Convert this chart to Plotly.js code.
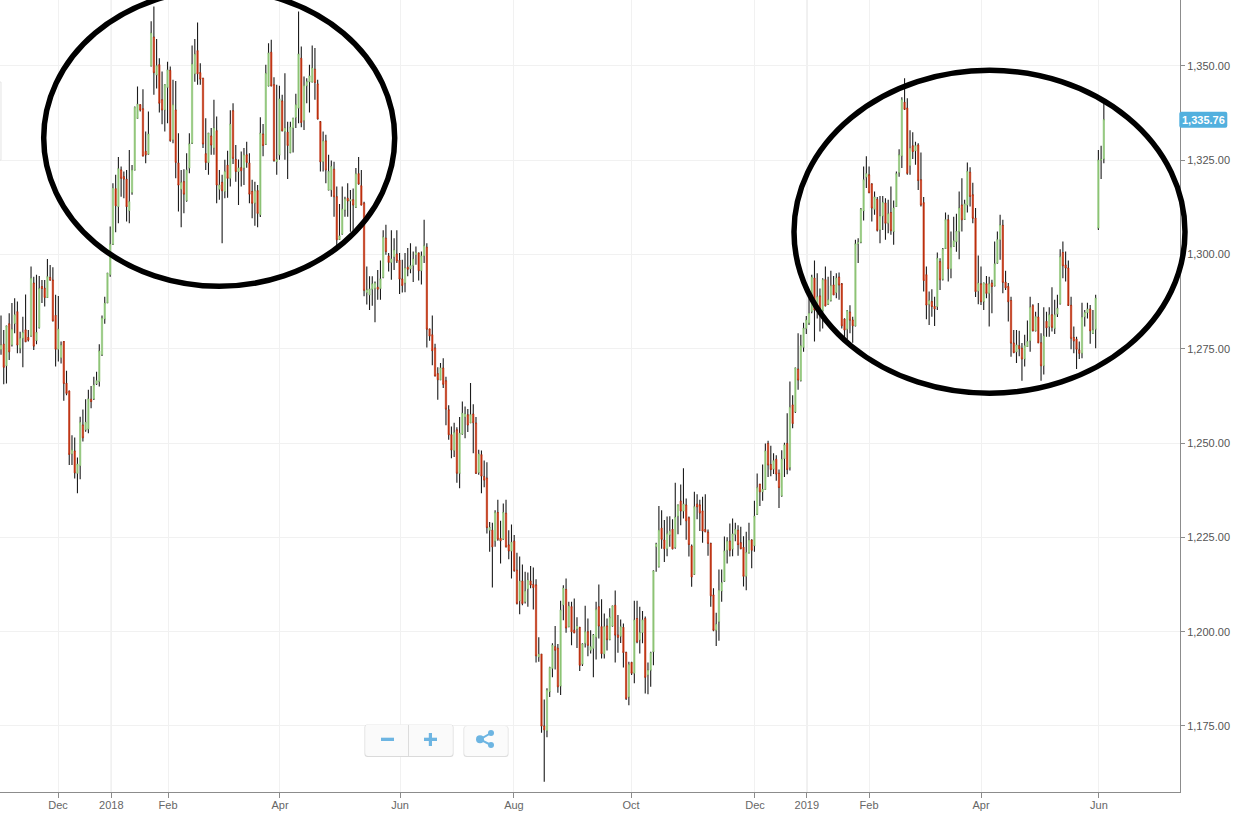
<!DOCTYPE html>
<html><head><meta charset="utf-8">
<script src="https://cdn.plot.ly/plotly-3.0.0.min.js"></script>
<style>html,body{margin:0;padding:0;background:#fff;overflow:hidden}#c{width:1235px;height:819px}</style>
</head><body><div id="c"></div>
<script>
const open = [
1274.8,1276.2,1270.5,1281.6,1276,1281.7,1284.8,1275.1,1277.8,1280,
1278,1278.4,1292.4,1277.2,1280.6,1291.5,1291,1288.6,1293.9,1293.2,
1283.8,1274.9,1272.6,1276.9,1265.8,1263.8,1247.1,1247.9,1242,1244,
1254.8,1253.5,1253.7,1261.6,1261.7,1265.7,1266.3,1273.4,1282.9,1287.2,
1294.6,1302.7,1317.4,1312.7,1322.4,1320.6,1319.9,1311.6,1316.4,1322.4,
1336.1,1339.7,1338.6,1327.3,1326.6,1350,1357.6,1347.6,1350.3,1341,
1338.3,1344.3,1348.8,1330.4,1338.3,1324.2,1317.3,1319.3,1314.3,1322.9,
1329.5,1347.9,1354,1348.2,1346.7,1326.7,1324.4,1331.4,1328.2,1332.8,
1317.3,1319.1,1316.7,1323.6,1320.2,1338.1,1325.2,1322,1323,1322.9,
1326.4,1324.2,1316.7,1313.6,1316.9,1310.5,1331.9,1329.2,1344.7,1353.6,
1345,1324.6,1326.4,1340.7,1332.6,1332.4,1327,1333.5,1336.3,1338.8,
1352,1335.5,1344.7,1345.8,1345.7,1349.1,1345.2,1335.2,1324.6,1330.1,
1317.1,1317.1,1322.6,1315.3,1304,1305.4,1311.8,1314.9,1314.2,1314.5,
1312.5,1321.4,1318.2,
1313.6,1289.9,1289.3,1290.8,1291,1291.3,1291,1293.9,1304.3,1299.6,
1297.9,1299.3,1300.1,1298.4,1293.5,1292.4,1296.6,1296.2,1297.1,1299.9,
1300.4,1295.7,1299.6,1301.9,1280.2,1278.7,1275.2,1268.4,1266.8,1269.9,
1266.5,1258.8,1252.2,1248,1253.5,1242,1252.4,1256.9,1257.5,1255.4,
1257.7,1255.3,1242.2,1246.9,1241.1,1240.7,
1226.9,1226.9,1224,1231.6,1224.7,1224.5,1231.4,1223,1221.4,1224,
1216.3,1208.2,1213.4,1207.9,1211.3,1213.4,1212.5,1212.4,1193.3,1194,
1175,1173.7,1184.1,1190.3,1196,1195.6,1185.6,1207.1,1211.2,1201.3,
1206.6,1200.4,1200.7,1201.1,1191.4,1196.9,1200,1195.1,1195.6,1198.5,
1206.6,1201.3,1194.1,1201.5,1197.9,1201.5,1207,1199.1,1198.8,1201.1,
1194.5,1182.7,1191.8,1189,1203.5,1197.8,1199.8,1203.5,1188.5,1189.8,
1194.7,1222.5,1217.2,1227.4,1224.3,1222,1225.6,1227.1,1222.3,1230.6,
1234.6,1232,1233.6,1230.2,1222.7,1215.2,1233.8,1233.6,1232,1227.1,
1226.4,1223.4,1209.7,1200.4,1202.6,1210.8,1213.4,1221.6,1224,1221.9,
1225.8,1226.9,1223.6,1222.3,1214.7,1220.9,1224.3,1222.8,1231.1,1239.1,
1237.1,1237.7,1249.9,1244.3,1243.1,1245.7,1242,1236,1245.9,1249.9,
1243.5,1260.1,1258.3,
1269.6,1266.6,1275.4,1280.4,1281.8,1284.9,1293.7,1285.1,1289,1285.1,
1293.3,1286.8,1287.8,1291.9,1289.9,1294,1292.2,1282.8,1280.2,1284.7,
1282.6,1281.1,1302.8,1303.2,1311.6,1320.5,1321.1,1318.7,1312,1314.6,
1306.5,1310.2,1313.6,1308.3,1311.1,1306.1,1312.7,1321.7,1326.1,1340.3,
1338.8,1323.5,1328.8,1327.5,1329,1319.8,1313.7,1294.6,1286.8,1287.5,
1286.2,1286.2,1298.1,1293.4,1301.6,1309.2,1296.2,1302.1,1303.4,1306.1,
1313.1,1309.3,1313.1,1321.8,1315.8,1309.6,1290.3,1292.2,1287.5,1292.2,
1289.7,1292.4,1291.7,1297.7,1303.9,1307.7,1292.6,1291.5,1287.8,1276.5,
1274.2,1275.8,
1275.1,1272.3,1275.6,1277.1,1286.4,1279.8,1283.4,1276.6,1270.5,1282.2,
1280.9,1284,1280.4,1284.2,1286.9,1300.5,1297.2,1296.4,1286.5,1278,
1277.5,1274.7,1273.8,1283.5,1284.6,1285.5,1279.1,1280.2,1307,1325,1325.3];
const high = [
1283.8,1280,1281,1284.4,1287.1,1288.4,1287.5,1279.5,1283.5,1289.4,
1280,1296.8,1294.1,1294.6,1294.3,1293.2,1293.2,1298.8,1297.2,1296.6,
1289.3,1289,1276.9,1276.9,1269.2,1263.8,1252.1,1251.5,1246.2,1257,
1258.9,1261.6,1264.1,1265.1,1267.6,1268.9,1276.2,1283.8,1288.8,1295,
1307.4,1318.9,1321.1,1325.8,1323.3,1322,1322.4,1327.7,1323.7,1339.2,
1344.5,1339.7,1343.8,1332.6,1337.9,1361.8,1365.7,1357.1,1352,1348.5,
1345,1351.1,1349.8,1346.3,1346,1332.1,1322.4,1322.6,1326.8,1332.1,
1355.4,1357.1,1361.5,1350.7,1346.7,1336.1,1332.1,1333.5,1341,1336.6,
1322.4,1321.1,1325.1,1327.5,1338.2,1340.1,1329,1325.2,1327.3,1328.2,
1329.9,1326.8,1319.8,1319.3,1318.4,1336.4,1334.6,1350.3,1356,1356.9,
1347,1345,1344.7,1342.3,1348,1335.2,1335.2,1336.1,1342.6,1364.4,
1355.1,1347.2,1346.7,1350.3,1355.4,1354.7,1346.3,1335.2,1332.6,1331.7,
1326.4,1324.9,1324.6,1318,1313.4,1318,1315.3,1318.9,1317.1,1317.5,
1322.9,1325.8,1322.4,
1314,1296.8,1294.2,1294.2,1292.8,1295.9,1298.4,1306.4,1307.9,1300.4,
1306.4,1304.3,1306.4,1300.4,1298.6,1300.4,1301.7,1303,1300.8,1302.1,
1300.4,1300.8,1309.2,1303,1280.2,1283.8,1276.3,1270.1,1271.2,1272.5,
1267.6,1260,1254.4,1255.4,1254.2,1256.9,1261,1259.7,1259,1265.9,
1260.3,1256.9,1248.2,1248,1245.4,1244.9,
1229.1,1228.9,1232.2,1235,1229.4,1234,1235,1226.9,1228.4,1225.6,
1220.9,1219.9,1217.8,1215.9,1215.7,1217.4,1217,1213.9,1198.5,1194,
1182,1185,1190.7,1196.9,1201.5,1196.7,1208.2,1212.3,1214.1,1207.9,
1207.9,1208.8,1203.8,1201.3,1196.9,1206.9,1203.5,1200.4,1199.4,1207.9,
1212.5,1208.6,1204.8,1203.5,1206.2,1206.8,1210.9,1204.4,1203.2,1202.2,
1194.7,1192,1192,1208.2,1208.2,1206.6,1205.5,1204,1191.8,1194.7,
1216.3,1223.6,1233.3,1232.2,1229.6,1230.5,1230.6,1229.8,1239.5,1233.6,
1239,1243.3,1235.3,1230.5,1223.1,1237.1,1236.4,1235,1235.8,1236.4,
1227.1,1223.6,1211.5,1205,1216.5,1216.5,1225.2,1225,1228.7,1230,
1228.9,1228.2,1227.8,1225.3,1226.5,1228.9,1224.5,1234.7,1241.9,1239.1,
1244.3,1249.9,1250.6,1249.3,1247.3,1246.8,1243,1248.1,1250.1,1257.9,
1266.3,1262.7,1269.9,
1279.1,1278.7,1281.9,1283.7,1288.4,1294.6,1298.4,1295,1291,1293.7,
1296.8,1294.1,1295.7,1294.3,1295,1295.2,1292.4,1283.1,1285.3,1286.5,
1283.5,1303.9,1304.3,1312.3,1323.3,1326,1323.3,1318.9,1316.7,1315.2,
1315.5,1315.5,1314.9,1314.5,1318,1314.3,1322,1327.9,1341.7,1346.7,
1341.4,1332.9,1332.4,1329.9,1329.5,1327,1315.2,1296.8,1290.2,1290.8,
1288.8,1300.5,1299,1301.7,1311.1,1310.5,1306.1,1310,1310.8,1316.7,
1320.2,1314.5,1324.4,1323.1,1319,1312.3,1299.7,1296.8,1292.4,1294.3,
1294.1,1293.3,1303.4,1306.1,1310.5,1309.2,1295.7,1292.4,1288.8,1280,
1280,1279.8,
1276.5,1278.7,1282.5,1288.8,1286.8,1284.8,1287.1,1279.1,1286,1284.8,
1286,1291.3,1288,1289.3,1301.4,1303.4,1300.8,1298.4,1288.8,1280.9,
1278.2,1276.9,1287.2,1285.3,1287.2,1286.6,1285.3,1289.3,1327.7,1328.8,1340.1];
const low = [
1273.4,1265.6,1265.8,1272,1275.6,1279.1,1273.8,1273.8,1270.1,1276.9,
1276.9,1278.2,1274.7,1276.2,1280.4,1287.1,1286.2,1288.6,1293.2,1282.2,
1270.3,1271.6,1271.1,1261.2,1262.7,1244.2,1244.2,1240.6,1236.7,1240.4,
1250.4,1253,1252.6,1259.2,1261.4,1265.4,1265,1273.1,1281.6,1287.1,
1294.1,1302.5,1305.9,1308.3,1315.3,1314.9,1308.7,1308.3,1315.8,1322.4,
1336.1,1337.9,1326,1324.2,1326.4,1349.8,1342.3,1344,1337.6,1334.5,
1332.6,1334.8,1329.9,1329.5,1320.2,1311.4,1307.2,1310.9,1314,1321.5,
1329.3,1345.8,1345,1345,1328.2,1322.4,1321.1,1326.4,1326.4,1313.6,
1314.5,1303,1314.9,1315,1318,1324,1319.3,1313.1,1318,1318.4,
1323,1313.6,1309.6,1307.6,1307.2,1309.9,1326,1329,1344.5,1344.5,
1324.6,1321.1,1325.1,1332.6,1325.1,1320,1326.8,1327,1333.5,1334.8,
1333.7,1333,1340.1,1337.6,1345.6,1341,1335.9,1322,1322,1318.9,
1317,1315.3,1310,1302.5,1303.9,1305.2,1310,1310,1306,1306,
1312.3,1318.5,1313.1,
1288.9,1286.7,1285.3,1286.4,1282,1288,1288,1293.7,1299.9,1295.5,
1293.3,1295.9,1297.7,1289.5,1289.9,1290,1294.2,1295,1292.7,1297.3,
1293.1,1292,1297.7,1275.3,1277.1,1270.6,1267.8,1261.5,1266.8,1264.6,
1254.7,1250.9,1246,1246.3,1239.5,1238,1252.2,1251.3,1252.9,1255.3,
1247.3,1241.8,1241.6,1236.7,1238.3,1226,
1221.2,1211.7,1222.5,1224.1,1218.1,1224.3,1222.3,1219.2,1214.1,1215.9,
1207.2,1204.6,1207,1207.5,1206.6,1211.5,1205.9,1191.8,1192,1173.2,
1160.2,1172,1182.7,1187.9,1190,1183.8,1183.2,1203,1199.7,1201.3,
1196.4,1199.7,1195.7,1189.6,1190.9,1195.8,1193.5,1194.2,1187.9,1192.6,
1198.2,1192.9,1192.9,1195,1197.8,1201.3,1191.8,1194.4,1197,1190.5,
1181.9,1180.5,1188.5,1186.3,1196.9,1194.2,1196.9,1183.6,1183.4,1185.4,
1191.1,1215.9,1217,1222,1218.5,1220,1222.5,1221.8,1222,1225.8,
1228.2,1230,1224.4,1219.9,1211.9,1215,1229.8,1226.7,1223.6,1226.4,
1220.1,1206.6,1200.1,1196.2,1197.6,1207.9,1213.2,1218.1,1219.9,1220,
1224,1220.1,1222,1212,1211,1220.7,1216.8,1221.2,1230.9,1233.3,
1234.7,1237.6,1241,1241.2,1241.8,1240,1232.8,1235.8,1241,1241.7,
1242.7,1253.9,1258,
1264.1,1266.3,1274.2,1278.9,1281.3,1284.4,1276.9,1283,1279.6,1280.4,
1286.2,1286.6,1287.5,1289.3,1288.4,1288,1280.4,1277.8,1277.5,1279.1,
1276.6,1280.9,1297.7,1303,1309,1317.6,1316.2,1308.7,1310.5,1306.1,
1303,1306.5,1303.9,1305.6,1305.2,1302.6,1312.7,1320.6,1322.9,1338.3,
1321.1,1321.1,1325.3,1323.8,1317.1,1312.7,1290.2,1282.8,1281.3,1283.5,
1281,1285.3,1290.6,1293.1,1301.6,1292.8,1293.7,1302,1300.7,1298.7,
1306.1,1309.2,1311.1,1312.7,1308.3,1288.7,1286.8,1286.6,1285.3,1288.4,
1280.9,1284.4,1291.5,1297.7,1298.6,1289.7,1290.6,1282.2,1272.9,1273.8,
1271.2,1273,
1266.5,1270.3,1275.6,1274.2,1279.6,1279.6,1276.5,1266.5,1268.2,1278.2,
1278.2,1279.6,1278.9,1283.4,1286.7,1293.7,1292.8,1286.5,1274.9,1273.8,
1269.6,1272.3,1272.5,1280.9,1283,1276.3,1278.9,1275.1,1306.5,1320,1324.2];
const close = [
1276,1270.1,1281,1274.2,1280.2,1284,1276,1277.8,1279.3,1276.9,
1277.3,1293.7,1275.7,1279.3,1291,1291,1288.6,1294.1,1293.2,1282.4,
1274.9,1280.2,1276,1265.8,1263.2,1247,1248.2,1242.1,1244.4,1255.5,
1251.4,1255.5,1261.7,1261,1265.4,1266.5,1274.4,1283.1,1287.1,1295,
1302.7,1317.6,1312.9,1322.7,1320.2,1320,1312.7,1314,1322.4,1339,
1339.8,1338.3,1326.1,1326.4,1331.9,1358.7,1348.2,1350,1340.1,1338.3,
1345,1348.9,1330.2,1339.7,1324.4,1318.4,1319.1,1316,1322.4,1329.3,
1350.5,1353.1,1347.9,1346.5,1329.3,1324.4,1332.1,1329,1333.5,1318.4,
1318.4,1316.9,1322,1320.2,1334.5,1325.5,1322,1322.9,1322.2,1326.4,
1324.4,1316,1313.6,1316.9,1310.9,1332.1,1328.9,1348,1353.4,1344.7,
1324.9,1325.2,1341.2,1332.8,1333.5,1328.9,1333.7,1336.1,1339.7,1353.1,
1335,1344.8,1345.8,1347.3,1349.4,1345.6,1335.9,1324.6,1330.1,1322.4,
1322,1323.3,1315.3,1303.9,1304.9,1312,1314.7,1314.2,1314.5,1313.1,
1321.4,1318.7,1313.1,
1290.5,1290.6,1290.8,1292.2,1292.4,1290.8,1293.5,1304.6,1300.8,1297.9,
1298.8,1301.2,1298.3,1293.5,1291.8,1296.4,1296.1,1297,1298.8,1300.5,
1295.7,1299.6,1302.3,1280.2,1278.4,1274.5,1267.8,1266.8,1269.9,1265.6,
1259,1252.2,1248.2,1252.8,1242,1252.6,1257.9,1257.7,1254.8,1257.5,
1255.4,1242,1247.1,1241.3,1240.2,1227.6,
1227.6,1222.5,1231.6,1224.5,1224.1,1231.6,1222.5,1221.4,1223.7,1216.2,
1207.5,1213.4,1207.5,1210.8,1213.7,1212.4,1211.7,1193.6,1194,1175,
1174,1184.5,1190.5,1196.4,1195.1,1185.4,1205.7,1211.5,1201,1206.8,
1200,1199.7,1201.5,1191.1,1196.7,1200,1196.4,1196,1199.1,1205.9,
1201.5,1194.2,1201.3,1197.9,1203.8,1206.8,1199.1,1198.5,1201.3,1194.5,
1182.3,1191.3,1189,1203.1,1197.3,1199.8,1203.1,1187.9,1189.8,1194.4,
1216.1,1223.2,1226.9,1224.5,1222,1226,1226.7,1222,1230.3,1233.6,
1232,1233.8,1229.4,1223.1,1214.5,1233.1,1233.1,1231.5,1226.7,1226.5,
1223.4,1209.5,1200.4,1202,1211,1213,1221.4,1224,1221.6,1225.9,
1227.1,1223.1,1222,1214.7,1221,1224.3,1221.6,1230.6,1238.2,1237.1,
1237.7,1247.9,1244.2,1243,1245.3,1241.8,1238.2,1245.7,1249.5,1243,
1259.5,1255.2,1269.9,
1266.7,1275.8,1280.4,1282.6,1284.4,1294,1285.3,1288.8,1285.1,1293.3,
1286.4,1288,1291.7,1289.3,1293.7,1291.9,1281.1,1280,1285.1,1282.6,
1281.1,1302.8,1303.2,1312,1319.8,1321.4,1316.4,1312.3,1315.2,1306.4,
1310.2,1313.8,1308.3,1310.8,1306.3,1312.3,1321.4,1326.4,1341,1338.5,
1321.5,1328.2,1327.3,1328.8,1319.6,1313.1,1293.1,1286.6,1287.8,1286.2,
1285.6,1299,1293.3,1301.4,1309.2,1296.2,1301.9,1303.6,1306.1,1312.3,
1309.2,1313.4,1322,1315.4,1309.6,1290.2,1292.4,1287.5,1292.4,1289.7,
1292.2,1291.5,1297.5,1303.9,1307.8,1292.6,1291.2,1287.5,1276.5,1274,
1276,1275,
1272.3,1275.8,1276.9,1286,1279.8,1283.5,1276.6,1270.5,1278.4,1280.6,
1284,1280.7,1284,1285.7,1299.4,1297,1296.4,1286.5,1277.8,1277.1,
1274.9,1273.8,1283.4,1284.6,1285.5,1279.8,1280,1288.4,1325,1325.2,1335.76];

const priceTicks = [1175,1200,1225,1250,1275,1300,1325,1350];
const monthTickPos = [20.9,40.4,61.2,102.2,146.2,187.9,230.8,276.2,295.2,318,359,402.2];
const monthTickText = ["Dec","2018","Feb","Apr","Jun","Aug","Oct","Dec","2019","Feb","Apr","Jun"];
const yearLines = [40.4,295.2];
const lastPrice = 1335.76;

if(!(open.length===high.length&&high.length===low.length&&low.length===close.length)) throw new Error("len "+[open.length,high.length,low.length,close.length]);
const x = open.map((_,i)=>i);

const W=1180, H=792;
const px=v=>v/W, py=v=>1-v/H;
const rectP=(x0,y0,x1,y1,fill,line,lw)=>({type:'rect',xref:'paper',yref:'paper',x0:px(x0),x1:px(x1),y0:py(y0),y1:py(y1),fillcolor:fill,line:{color:line||fill,width:lw===undefined?0:lw},layer:'above'});
const roundP=(x0,y0,x1,y1,r,fill)=>{
 const X=px,Y=py;
 return {type:'path',xref:'paper',yref:'paper',fillcolor:fill,line:{width:0},layer:'above',
  path:`M${X(x0+r)},${Y(y0)} L${X(x1-r)},${Y(y0)} Q${X(x1)},${Y(y0)} ${X(x1)},${Y(y0+r)} L${X(x1)},${Y(y1-r)} Q${X(x1)},${Y(y1)} ${X(x1-r)},${Y(y1)} L${X(x0+r)},${Y(y1)} Q${X(x0)},${Y(y1)} ${X(x0)},${Y(y1-r)} L${X(x0)},${Y(y0+r)} Q${X(x0)},${Y(y0)} ${X(x0+r)},${Y(y0)} Z`};
};
const circP=(cx,cy,r,fill)=>({type:'circle',xref:'paper',yref:'paper',x0:px(cx-r),x1:px(cx+r),y0:py(cy-r),y1:py(cy+r),fillcolor:fill,line:{width:0},layer:'above'});
const lineP=(x0,y0,x1,y1,c,w)=>({type:'line',xref:'paper',yref:'paper',x0:px(x0),x1:px(x1),y0:py(y0),y1:py(y1),line:{color:c,width:w},layer:'above'});
const ellipse=(x0,y0,x1,y1)=>({type:'circle',xref:'paper',yref:'paper',x0:px(x0),x1:px(x1),y0:py(y0),y1:py(y1),line:{color:'#000',width:5.5},fillcolor:'rgba(0,0,0,0)',layer:'above'});
const ICON='#6db5e2';

const shapes=[
 ...yearLines.map(v=>({type:'line',xref:'x',yref:'paper',x0:v,x1:v,y0:0,y1:1,line:{color:'#d2d2d2',width:1},layer:'below'})),
 rectP(-4,82,1,160,'#fbfbfb','#e6e6e6',1),
 roundP(364.5,724.5,453.5,757,3,'#dadada'),
 roundP(365.2,724.5,452.8,756,3,'#fafafa'),
 lineP(408.5,725,408.5,756,'#dcdcdc',1),
 rectP(381,737.7,394,741,ICON),
 rectP(424,737.7,437,741,ICON),
 rectP(428.8,733,432,746,ICON),
 roundP(463.5,726,508.5,757,3,'#dedede'),
 roundP(464.2,726,507.8,756,3,'#fbfbfb'),
 lineP(480,739.3,491,733,ICON,2),
 lineP(480,739.3,491,745,ICON,2),
 circP(480,739.3,4,ICON),
 circP(491,733,3,ICON),
 circP(491,745,3,ICON),
 ellipse(43.7,-10.3,394.7,286.3),
 ellipse(794,70.3,1185,393.3),
 roundP(1179.3,111.8,1227.3,127.8,2,'#52b0de')
];

const bodyHigh=open.map((o,i)=>Math.max(o,close[i]));
const bodyLow=open.map((o,i)=>Math.min(o,close[i]));
const WICK={increasing:{line:{color:'#1c1c1c',width:1.1},fillcolor:'#1c1c1c'},decreasing:{line:{color:'#1c1c1c',width:1.1},fillcolor:'#1c1c1c'}};
const traces=[
 {type:'candlestick',x,open:bodyHigh,close:bodyHigh,high,low:bodyHigh,width:0.001,whiskerwidth:0,hoverinfo:'skip',showlegend:false,...WICK},
 {type:'candlestick',x,open:bodyLow,close:bodyLow,high:bodyLow,low,width:0.001,whiskerwidth:0,hoverinfo:'skip',showlegend:false,...WICK},
 {type:'candlestick',x,open,high:bodyHigh,low:bodyLow,close,width:0.65,whiskerwidth:0,hoverinfo:'skip',showlegend:false,
  increasing:{line:{color:'#8dc476',width:0.6},fillcolor:'#8dc476'},
  decreasing:{line:{color:'#bd2f0d',width:0.6},fillcolor:'#bd2f0d'}}
];
const layout={
 width:1235,height:819,margin:{l:0,r:55,t:0,b:27,pad:0},
 paper_bgcolor:'#fff',plot_bgcolor:'#fff',showlegend:false,boxmode:'overlay',
 font:{family:'"Liberation Sans",Arial,sans-serif',color:'#555',size:12},
 xaxis:{type:'linear',range:[-0.37,431.9],rangeslider:{visible:false},tickmode:'array',tickvals:monthTickPos,ticktext:monthTickText,
  showgrid:true,gridcolor:'#f1f1f1',gridwidth:1,zeroline:false,showline:true,linecolor:'#8c8c8c',linewidth:1,
  ticks:'outside',ticklen:5,tickcolor:'#8c8c8c',ticklabelstandoff:-2,tickfont:{size:11,color:'#666'}},
 yaxis:{side:'right',type:'linear',range:[1157.5,1367.45],tickmode:'array',tickvals:priceTicks,tickformat:',.2f',
  showgrid:true,gridcolor:'#f1f1f1',gridwidth:1,zeroline:false,showline:true,linecolor:'#8c8c8c',linewidth:1,
  ticks:'outside',ticklen:4,tickcolor:'#8c8c8c',tickfont:{size:11,color:'#555'}},
 shapes,
 annotations:[{xref:'paper',yref:'y',x:1203.3/W,y:lastPrice,xanchor:'center',yanchor:'middle',showarrow:false,
  text:'<b>'+lastPrice.toLocaleString('en-US',{minimumFractionDigits:2})+'</b>',font:{size:11,color:'#fff'}}]
};
Plotly.newPlot('c',traces,layout,{displayModeBar:false,staticPlot:true,responsive:false});
</script></body></html>
